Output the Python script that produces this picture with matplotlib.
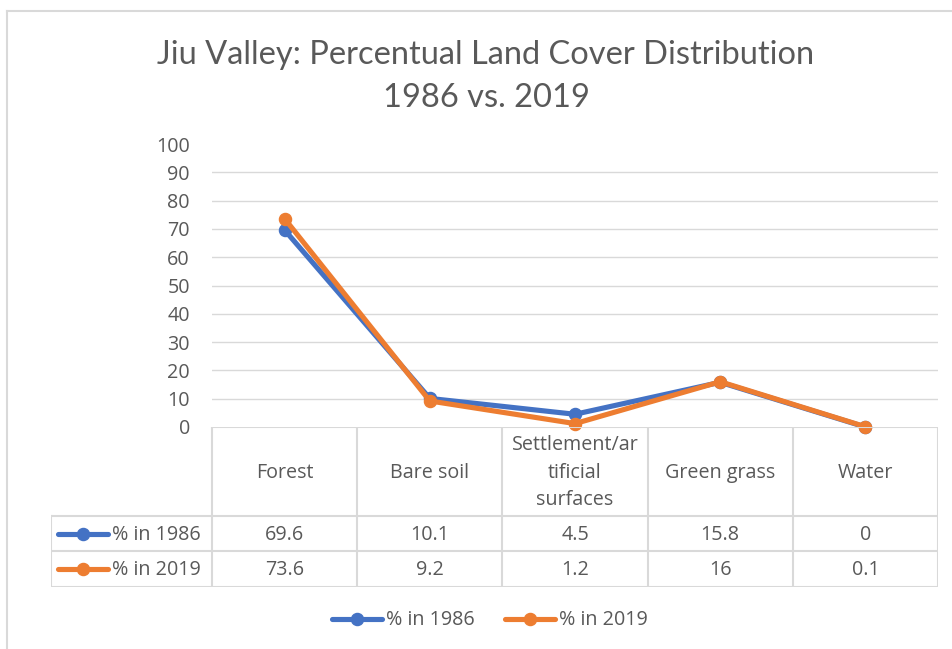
import matplotlib
matplotlib.use("Agg")
import matplotlib.pyplot as plt
from matplotlib.lines import Line2D

categories = ["Forest", "Bare soil", "Settlement/ar\ntificial\nsurfaces", "Green grass", "Water"]
series_names = ["% in 1986", "% in 2019"]
values_1986 = [69.6, 10.1, 4.5, 15.8, 0]
values_2019 = [73.6, 9.2, 1.2, 16, 0.1]
table_1986 = ["69.6", "10.1", "4.5", "15.8", "0"]
table_2019 = ["73.6", "9.2", "1.2", "16", "0.1"]
yticks = [0, 10, 20, 30, 40, 50, 60, 70, 80, 90, 100]

BLUE = "#4472C4"
ORANGE = "#ED7D31"
TXT = "#595959"
GRID = "#D9D9D9"
W, H = 952, 649
FONT = ["Open Sans", "DejaVu Sans"]
TITLEFONT = ["Lato", "DejaVu Sans"]
FS = 14.2

fig = plt.figure(figsize=(W / 100, H / 100), dpi=100)

def fx(px):
    return px / W

def fy(py):
    return 1 - py / H

# chart border
fig.add_artist(Line2D([fx(7), fx(7)], [fy(11), fy(649)], color=GRID, lw=1.5))
fig.add_artist(Line2D([fx(7), fx(952)], [fy(11), fy(11)], color=GRID, lw=1.5))

# title
fig.text(fx(486), fy(55), "Jiu Valley: Percentual Land Cover Distribution", ha="center", va="center",
         fontsize=23.5, color=TXT, family=TITLEFONT, fontweight="normal")
fig.text(fx(486), fy(98), "1986 vs. 2019", ha="center", va="center",
         fontsize=23.5, color=TXT, family=TITLEFONT, fontweight="normal")

# plot area
x0, x1 = 212, 938
ytop, ybot = 144, 427
ax = fig.add_axes([fx(x0), fy(ybot), fx(x1) - fx(x0), fy(ytop) - fy(ybot)])
ax.set_xlim(-0.5, len(categories) - 0.5)
ax.set_ylim(0, 100)
for s in ax.spines.values():
    s.set_visible(False)
ax.set_xticks([])
ax.set_yticks(yticks)
ax.set_yticklabels([str(t) for t in yticks], fontsize=FS, color=TXT, family=FONT)
ax.tick_params(axis="y", length=0, pad=16)
for t in yticks[1:-1]:
    ax.axhline(t, color=GRID, lw=1, zorder=0)

xs = list(range(len(categories)))
ax.plot(xs, values_1986, color=BLUE, lw=3.7, marker="o", ms=8.7, solid_capstyle="round", zorder=3, clip_on=False)
ax.plot(xs, values_2019, color=ORANGE, lw=3.7, marker="o", ms=8.7, solid_capstyle="round", zorder=4, clip_on=False)

# data table
colw = (x1 - x0) / len(categories)
tl = 51
tax = fig.add_axes([fx(tl), fy(587), fx(x1) - fx(tl), fy(427) - fy(587)])
left_units = -0.5 - (x0 - tl) / colw
tax.set_xlim(left_units, len(categories) - 0.5)
tax.set_ylim(587, 427)
tax.axis("off")
lc = dict(color=GRID, lw=1.5)
tax.plot([-0.5, len(categories) - 0.5], [427, 427], **lc)
for yy in [516, 551, 587]:
    tax.plot([left_units, len(categories) - 0.5], [yy, yy], **lc)
tax.plot([left_units, left_units], [516, 587], **lc)
for i in range(len(categories) + 1):
    tax.plot([i - 0.5, i - 0.5], [427, 587], **lc)

for i, c in enumerate(categories):
    tax.text(i, 472.5, c, ha="center", va="center", fontsize=FS, color=TXT, family=FONT, linespacing=1.5)
    tax.text(i, 535, table_1986[i], ha="center", va="center", fontsize=FS, color=TXT, family=FONT)
    tax.text(i, 570, table_2019[i], ha="center", va="center", fontsize=FS, color=TXT, family=FONT)

def key(xa, xb, yy, color):
    fig.add_artist(Line2D([fx(xa), fx(xb)], [fy(yy), fy(yy)], color=color, lw=3.7, solid_capstyle="round"))
    fig.add_artist(Line2D([fx((xa + xb) / 2)], [fy(yy)], color=color, marker="o", ms=8.7, lw=0))

for name, color, yy in [(series_names[0], BLUE, 534), (series_names[1], ORANGE, 569)]:
    key(58, 108, yy, color)
    fig.text(fx(112), fy(yy + 1), name, ha="left", va="center", fontsize=FS, color=TXT, family=FONT)

# bottom legend
for name, color, xa in [(series_names[0], BLUE, 332), (series_names[1], ORANGE, 505)]:
    key(xa, xa + 50, 619, color)
    fig.text(fx(xa + 54), fy(620), name, ha="left", va="center", fontsize=FS, color=TXT, family=FONT)

fig.savefig("out.png", dpi=100, facecolor="white")
